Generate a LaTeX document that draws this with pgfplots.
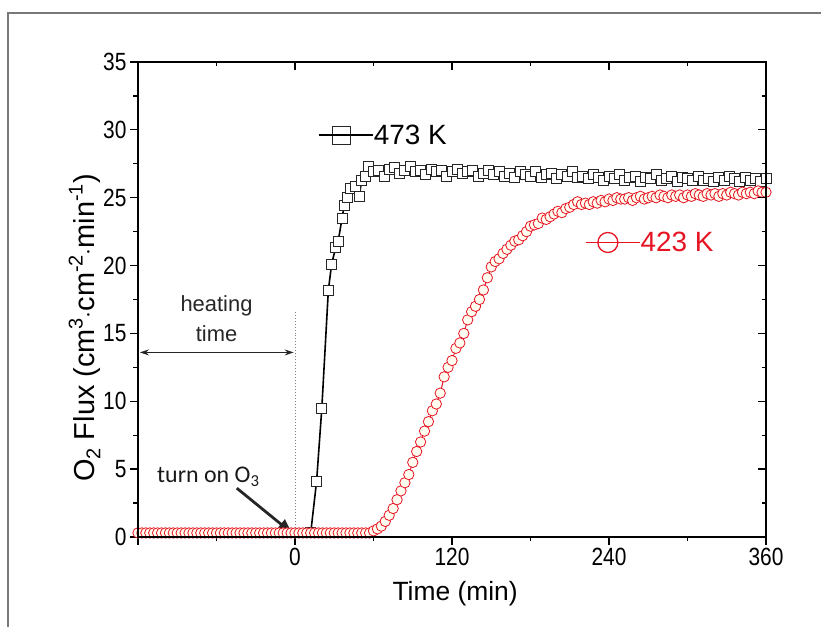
\documentclass[border=0pt]{standalone}
\usepackage{fontspec}
\setmainfont{Liberation Sans}
\newfontfamily\narrowfont[FakeStretch=0.84]{Liberation Sans}
\newfontfamily\calfont{Carlito}
\usepackage{pgfplots}
\pgfplotsset{compat=1.18}
\usetikzlibrary{arrows.meta}
\definecolor{redc}{RGB}{230,20,35}
\definecolor{framegray}{RGB}{120,120,120}
\newcommand{\sups}[1]{\raisebox{0.42em}{\fontsize{20}{20}\selectfont #1}}
\newcommand{\subs}[1]{\raisebox{-0.2em}{\fontsize{20}{20}\selectfont #1}}

\pgfplotsset{
  fluxbase/.style={
    scale only axis, width=628bp, height=475bp,
    xmin=-120, xmax=360, ymin=0, ymax=35,
    xtick={-120,0,120,240,360}, minor x tick num=1,
    ytick={0,5,...,35}, minor y tick num=1,
    axis line style={line width=1.3bp},
    major tick style={line width=1.3bp, black},
    minor tick style={line width=1.3bp, black},
    major tick length=8bp, minor tick length=4.5bp,
    /pgf/number format/assume math mode=true,
    tick label style={font=\narrowfont\fontsize{25}{25}\selectfont},
    legend image code/.code={\draw[mark repeat=2,mark phase=2,##1] plot coordinates {(0bp,0bp) (22bp,0bp) (44bp,0bp)}; \path (0bp,0bp) -- (54bp,0bp);},
  }
}

\begin{document}
\begin{tikzpicture}[x=1bp,y=1bp]
\useasboundingbox (-138,-90) rectangle (683,537);
\draw[framegray, line width=2bp] (-130,-92) -- (-130,524) -- (685,524);

\begin{axis}[fluxbase,
  xtick pos=left, ytick pos=left, tick align=outside,
  xticklabels={,0,120,240,360},
  xlabel={Time (min)}, ylabel={O\subs{2} Flux (cm\sups{3}$\cdot$cm\sups{-2}$\cdot$min\sups{-1})},
  xlabel style={font=\fontsize{26.5}{26.5}\selectfont, at={(axis description cs:0.505,-0.12)}, anchor=center},
  ylabel style={font=\fontsize{29}{29}\selectfont, at={(axis description cs:-0.085,0.44)}, anchor=center},
  legend style={at={(axis description cs:0.2866,0.846)}, anchor=west, draw=none, fill=none,
    inner sep=0pt, nodes={inner sep=0pt}, font=\fontsize{28}{28}\selectfont},
  legend image post style={mark size=9bp},
]
% 473 K
\addplot[black, line width=1.6bp, mark=square*, mark size=5bp,
  mark options={solid, fill=white, line width=0.9bp, draw=black!85}] table {
x y
12 0.3
16.5 4.1
20.5 9.5
25.5 18.2
28 20.1
31 21.3
33 21.8
36 23.5
37.5 24.4
40 25.0
42 25.7
46.5 25.8
49 25.1
51 26.3
53.5 26.6
56 27.3
60 26.9
64 27.0
68 26.6
72 27.1
76 27.2
80 26.8
84 27.0
88 27.3
92 26.9
96 27.0
100 26.7
104 27.1
108 26.9
112 27.0
116 26.6
120 26.9
124 27.1
128 26.8
132 26.9
136 27.0
140 26.6
144 26.8
148 27.0
152 26.7
156 26.9
160 26.6
164 26.8
168 26.5
172 26.9
176 26.7
180 26.6
184 26.9
188 26.5
192 26.7
196 26.8
200 26.4
204 26.7
208 26.6
212 26.9
216 26.5
220 26.6
224 26.4
228 26.7
232 26.5
236 26.3
240 26.6
244 26.4
248 26.7
252 26.3
256 26.5
260 26.6
264 26.2
268 26.5
272 26.4
276 26.7
280 26.3
284 26.4
288 26.6
292 26.2
296 26.5
300 26.4
304 26.3
308 26.6
312 26.3
316 26.4
320 26.2
324 26.5
328 26.3
332 26.6
336 26.4
340 26.2
344 26.5
348 26.3
352 26.4
356 26.2
360 26.4
};
\addlegendentry{473 K}
% 423 K
\addplot[redc, line width=1bp, mark=*, mark size=5.2bp,
  mark options={solid, fill={rgb,255:red,255;green,252;blue,240}, line width=0.8bp, draw=redc}, forget plot] table {
x y
-120 0.3
-117 0.3
-114 0.3
-111 0.3
-108 0.3
-105 0.3
-102 0.3
-99 0.3
-96 0.3
-93 0.3
-90 0.3
-87 0.3
-84 0.3
-81 0.3
-78 0.3
-75 0.3
-72 0.3
-69 0.3
-66 0.3
-63 0.3
-60 0.3
-57 0.3
-54 0.3
-51 0.3
-48 0.3
-45 0.3
-42 0.3
-39 0.3
-36 0.3
-33 0.3
-30 0.3
-27 0.3
-24 0.3
-21 0.3
-18 0.3
-15 0.3
-12 0.3
-9 0.3
-6 0.3
-3 0.3
0 0.3
3 0.3
6 0.3
9 0.3
12 0.3
15 0.3
18 0.3
21 0.3
24 0.3
27 0.3
30 0.3
33 0.3
36 0.3
39 0.3
42 0.3
45 0.3
48 0.3
51 0.3
54 0.3
57 0.3
60 0.45
63 0.6
66 0.8
69 1.15
72 1.6
75 2.1
78 2.75
81 3.4
84 4.0
87 4.6
90 5.5
93 6.3
96 7.0
99 7.8
102 8.5
105 9.3
108 9.8
111 10.6
114 11.8
117 12.5
120 13.0
123 13.9
126 14.3
129 15.0
132 16.0
135 16.6
138 17.0
141 17.5
144 18.2
147 19.1
150 19.9
153 20.3
156 20.5
159 20.9
162 21.2
165 21.5
168 21.8
171 21.9
174 22.2
177 22.5
180 22.9
183 23.0
186 23.1
189 23.5
192 23.4
195 23.6
198 23.8
201 24.0
204 23.9
207 24.2
210 24.3
213 24.5
216 24.7
219 24.5
222 24.6
225 24.5
228 24.7
231 24.6
234 24.8
237 24.7
240 24.9
243 24.8
246 25.0
249 24.9
252 24.9
255 25.0
258 24.8
261 25.0
264 25.1
267 24.9
270 25.0
273 25.1
276 25.0
279 25.2
282 25.1
285 25.0
288 25.2
291 25.1
294 25.2
297 25.0
300 25.2
303 25.1
306 25.3
309 25.2
312 25.1
315 25.3
318 25.2
321 25.3
324 25.1
327 25.3
330 25.2
333 25.4
336 25.3
339 25.2
342 25.4
345 25.3
348 25.4
351 25.3
354 25.5
357 25.4
360 25.4
};
% annotations
\draw[gray, dotted, line width=1bp] (axis cs:0,0) -- (axis cs:0,16.6);
\draw[{Stealth[length=9bp,width=6bp]}-{Stealth[length=9bp,width=6bp]}, line width=1.3bp, black!85]
  (axis cs:-118.5,13.6) -- (axis cs:-1,13.6);
\node[font=\fontsize{22}{30}\selectfont, align=center, black!85] at (axis cs:-60,16.1) {heating\\time};
\node[font=\calfont\fontsize{24}{24}\selectfont, anchor=base west, black!90] at (axis cs:-108,3.98) {turn on O\textsubscript{3}};
\draw[-{Triangle[length=14bp,width=12bp]}, line width=2.8bp, black!85] (axis cs:-44.5,3.6) -- (axis cs:-2.5,0.3);
\end{axis}

\begin{axis}[fluxbase,
  xtick pos=right, ytick pos=right, tick align=inside,
  xticklabels={}, yticklabels={},
  legend style={at={(axis description cs:0.7118,0.62)}, anchor=west, draw=none, fill=none,
    inner sep=0pt, nodes={inner sep=0pt}, font=\fontsize{28}{28}\selectfont, text=redc},
]
\addlegendimage{redc, line width=1.3bp, mark=*, mark size=10bp, mark options={solid, fill=white, line width=1.3bp}}
\addlegendentry{423 K}
\end{axis}
\end{tikzpicture}
\end{document}
